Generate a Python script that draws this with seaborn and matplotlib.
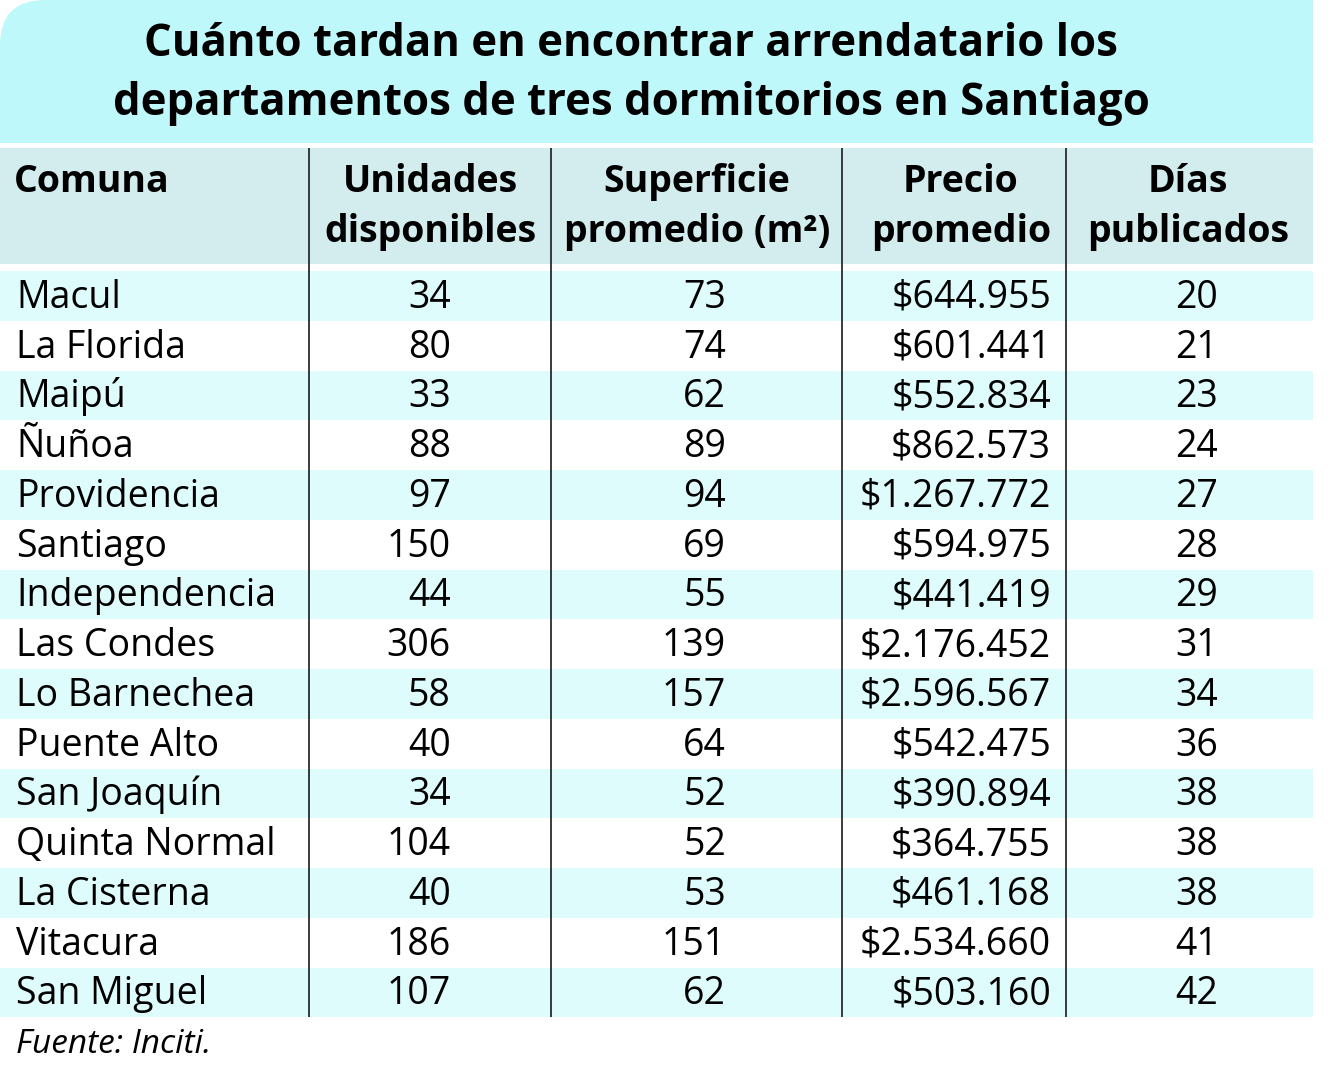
import matplotlib
matplotlib.use("Agg")
from matplotlib import pyplot as plt
from matplotlib.patches import FancyBboxPatch, Rectangle
import seaborn as sns

# Table content
title_lines = ["Cuánto tardan en encontrar arrendatario los",
               "departamentos de tres dormitorios en Santiago"]
headers = [["Comuna"], ["Unidades", "disponibles"], ["Superficie", "promedio (m²)"],
           ["Precio", "promedio"], ["Días", "publicados"]]
comunas = ["Macul", "La Florida", "Maipú", "Ñuñoa", "Providencia", "Santiago",
           "Independencia", "Las Condes", "Lo Barnechea", "Puente Alto",
           "San Joaquín", "Quinta Normal", "La Cisterna", "Vitacura", "San Miguel"]
unidades = [34, 80, 33, 88, 97, 150, 44, 306, 58, 40, 34, 104, 40, 186, 107]
superficie = [73, 74, 62, 89, 94, 69, 55, 139, 157, 64, 52, 52, 53, 151, 62]
precio = [644955, 601441, 552834, 862573, 1267772, 594975, 441419, 2176452,
          2596567, 542475, 390894, 364755, 461168, 2534660, 503160]
dias = [20, 21, 23, 24, 27, 28, 29, 31, 34, 36, 38, 38, 38, 41, 42]
fuente = "Fuente: Inciti."

# colours
title_bg = "#bff8fb"
header_bg = "#d3ecee"
stripe_bg = "#dffcfd"

sns.set_theme(style="white")
plt.rcParams['font.family'] = ['Open Sans', 'DejaVu Sans']
plt.rcParams['text.color'] = 'black'

fig = plt.figure(figsize=(13.41, 10.90), dpi=100)
ax = fig.add_axes([0, 0, 1, 1])
ax.set_xlim(0, 1341)
ax.set_ylim(1090, 0)
ax.axis('off')

table_right = 1313

# title band, only top-left corner rounded
ax.add_patch(FancyBboxPatch((0, 0), table_right, 143, boxstyle="round,pad=0,rounding_size=45",
                            fc=title_bg, ec="none"))
ax.add_patch(Rectangle((45, 0), table_right - 45, 143, fc=title_bg, ec="none"))
ax.add_patch(Rectangle((0, 45), table_right, 98, fc=title_bg, ec="none"))
ax.text(631, 56, title_lines[0], ha="center", va="baseline", fontsize=31.5, fontweight="bold")
ax.text(631, 115, title_lines[1], ha="center", va="baseline", fontsize=31.5, fontweight="bold")

# header band
ax.add_patch(Rectangle((0, 148), table_right, 116, fc=header_bg, ec="none"))
header_x = [14, 430, 697, 961, 1188]
for i, lines in enumerate(headers):
    ha = "left" if i == 0 else "center"
    for j, line in enumerate(lines):
        ax.text(header_x[i], 192 + 50 * j, line, ha=ha, va="baseline", fontsize=27,
                fontweight="bold")

# body rows
row_top = 271
row_h = 49.75
centers = [row_top + row_h * (i + 0.5) for i in range(len(comunas))]
colors = [stripe_bg if i % 2 == 0 else "white" for i in range(len(comunas))]
ax.barh(centers, width=table_right, height=row_h, left=0, color=colors, linewidth=0)

body_fs = 27
for i, y in enumerate(centers):
    yb = y + 12
    ax.text(16, yb, comunas[i], ha="left", va="baseline", fontsize=body_fs)
    ax.text(451, yb, str(unidades[i]), ha="right", va="baseline", fontsize=body_fs)
    ax.text(726, yb, str(superficie[i]), ha="right", va="baseline", fontsize=body_fs)
    ax.text(1051, yb, "$" + f"{precio[i]:,}".replace(",", "."), ha="right", va="baseline",
            fontsize=body_fs)
    ax.text(1218, yb, str(dias[i]), ha="right", va="baseline", fontsize=body_fs)

# column dividers
ax.vlines([309, 551, 842, 1066], 148, row_top + row_h * len(comunas), color="#1a1a1a", lw=1.2)

ax.text(16, 1053, fuente, ha="left", va="baseline", fontsize=24, style="italic")

fig.savefig("out.png", dpi=100, facecolor="white")
